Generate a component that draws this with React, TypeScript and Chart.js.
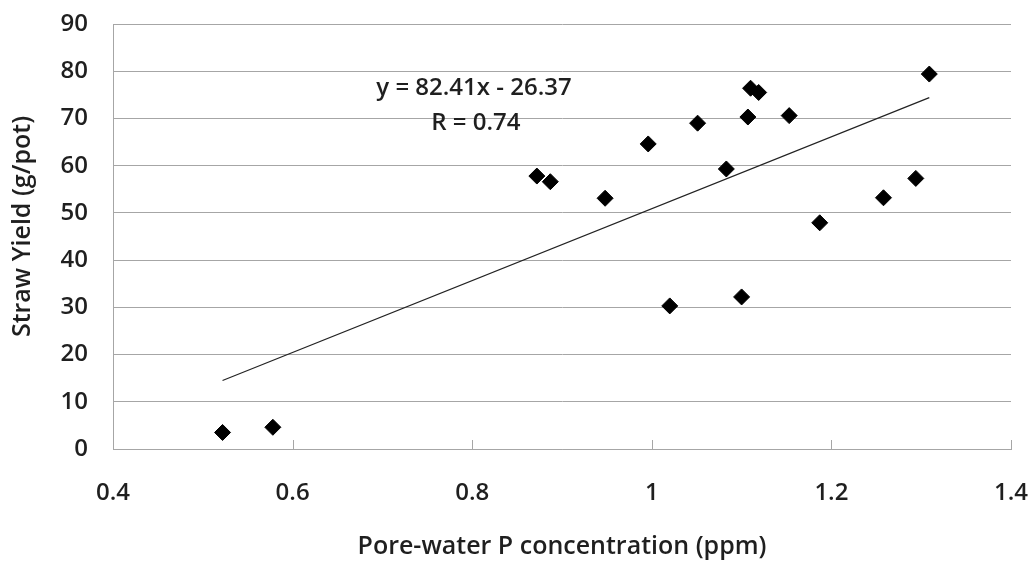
import React, { useEffect, useRef } from "react";
import { Chart, registerables } from "chart.js";

Chart.register(...registerables);

// Data
const poreWaterP = [0.522, 0.578, 0.872, 0.887, 0.948, 0.996, 1.02, 1.051, 1.083, 1.1, 1.107, 1.11, 1.119, 1.153, 1.187, 1.258, 1.294, 1.309];
const strawYield = [3.5, 4.6, 57.8, 56.6, 53.1, 64.6, 30.3, 69.0, 59.3, 32.2, 70.3, 76.4, 75.5, 70.6, 47.9, 53.2, 57.3, 79.4];

const trendX = [0.522, 1.309];
const trendY = [14.5, 74.4];

const xTickLabels = ["0.4", "0.6", "0.8", "1", "1.2", "1.4"];
const yTickLabels = ["0", "10", "20", "30", "40", "50", "60", "70", "80", "90"];

const annotationTexts = ["y = 82.41x - 26.37", "R = 0.74"];
const annotationX = [0.802, 0.804];
const annotationY = [76.5, 69.1];

const yTitleText = "Straw Yield (g/pot)";
const xTitleText = "Pore-water P concentration (ppm)";

const FONT = "'Open Sans', 'DejaVu Sans', sans-serif";
const TEXT = "#1f1f1f";
const GRID = "#a6a6a6";

const insideTicksPlugin = {
  id: "insideTicks",
  afterDatasetsDraw(chart: any) {
    const { ctx, chartArea, scales } = chart;
    const xs = scales.x;
    ctx.save();
    ctx.strokeStyle = GRID;
    ctx.lineWidth = 1;
    xs.ticks.forEach((t: any, i: number) => {
      if (i === 0) return;
      const px = Math.round(xs.getPixelForValue(t.value)) + 0.5;
      ctx.beginPath();
      ctx.moveTo(px, chartArea.bottom);
      ctx.lineTo(px, chartArea.bottom - 9);
      ctx.stroke();
    });
    ctx.restore();
  },
};

const annotationPlugin = {
  id: "eqAnnotation",
  afterDatasetsDraw(chart: any) {
    const { ctx, scales } = chart;
    ctx.save();
    ctx.fillStyle = TEXT;
    ctx.font = `600 24px ${FONT}`;
    ctx.textAlign = "center";
    ctx.textBaseline = "middle";
    annotationTexts.forEach((t, i) => {
      ctx.fillText(t, scales.x.getPixelForValue(annotationX[i]), scales.y.getPixelForValue(annotationY[i]));
    });
    ctx.restore();
  },
};

// Y axis title, placed a little above the plot centre as in the reference
const yTitlePlugin = {
  id: "yTitle",
  afterDraw(chart: any) {
    const { ctx, chartArea } = chart;
    const cy = (chartArea.top + chartArea.bottom) / 2 - 10;
    ctx.save();
    ctx.translate(23, cy);
    ctx.rotate(-Math.PI / 2);
    ctx.fillStyle = TEXT;
    ctx.font = `600 25px ${FONT}`;
    ctx.textAlign = "center";
    ctx.textBaseline = "middle";
    ctx.fillText(yTitleText, 0, 0);
    ctx.restore();
  },
};

export default function App() {
  const canvasRef = useRef<HTMLCanvasElement | null>(null);

  useEffect(() => {
    if (!canvasRef.current) return;
    const chart = new Chart(canvasRef.current, {
      type: "scatter",
      data: {
        datasets: [
          {
            type: "scatter",
            label: "Straw yield",
            data: poreWaterP.map((x, i) => ({ x, y: strawYield[i] })),
            pointStyle: "rectRot",
            pointRadius: 8,
            pointBackgroundColor: "#000000",
            pointBorderColor: "#000000",
            pointBorderWidth: 1,
            order: 1,
          },
          {
            type: "line",
            label: "Trend",
            data: trendX.map((x, i) => ({ x, y: trendY[i] })),
            borderColor: "#222222",
            borderWidth: 1.2,
            pointRadius: 0,
            showLine: true,
            fill: false,
            order: 2,
          } as any,
        ],
      },
      options: {
        animation: false,
        responsive: true,
        maintainAspectRatio: false,
        layout: { padding: { left: 0, right: 18, top: 24, bottom: 0 } },
        plugins: {
          legend: { display: false },
          tooltip: { enabled: false },
        },
        scales: {
          x: {
            type: "linear",
            min: 0.4,
            max: 1.4,
            afterFit: (scale: any) => {
              scale.height = 116;
              scale.paddingLeft = 0;
              scale.paddingRight = 0;
            },
            ticks: {
              stepSize: 0.2,
              padding: 30,
              color: TEXT,
              font: { family: FONT, size: 24, weight: "600" as any },
              maxRotation: 0,
              callback: (_v: any, i: number) => xTickLabels[i],
            },
            grid: { display: true, drawOnChartArea: false, drawTicks: false, color: GRID },
            border: { display: true, color: GRID, width: 1 },
            title: {
              display: true,
              text: xTitleText,
              color: TEXT,
              font: { family: FONT, size: 25, weight: "600" as any },
              padding: { top: 0, bottom: 3 },
            },
          },
          y: {
            type: "linear",
            min: 0,
            max: 90,
            afterFit: (scale: any) => {
              scale.width = 113;
              scale.paddingTop = 0;
              scale.paddingBottom = 0;
            },
            ticks: {
              stepSize: 10,
              padding: 25,
              color: TEXT,
              font: { family: FONT, size: 24, weight: "600" as any },
              callback: (_v: any, i: number) => yTickLabels[i],
            },
            grid: { display: true, drawOnChartArea: true, drawTicks: false, color: GRID, lineWidth: 1 },
            border: { display: true, color: GRID, width: 1 },
            title: { display: false },
          },
        },
      },
      plugins: [insideTicksPlugin, annotationPlugin, yTitlePlugin],
    });
    return () => chart.destroy();
  }, []);

  return (
    <div style={{ position: "fixed", left: 0, top: 0, width: 1029, height: 565, background: "#ffffff" }}>
      <canvas ref={canvasRef} />
    </div>
  );
}
